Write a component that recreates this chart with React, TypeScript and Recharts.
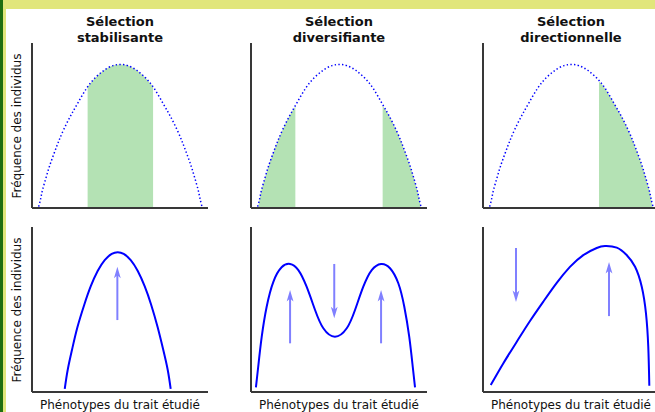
import { ComposedChart, Line, Area, XAxis, YAxis } from "recharts";

// top row: distribution before selection (same dotted curve in all three panels)
const beforeX = [3.8, 5, 6, 8, 10, 12.5, 15, 18, 22, 26, 31, 36, 41, 46, 50.2, 54.4, 59.4, 64.4, 69.4, 74.4, 78.4, 82.4, 85.4, 87.9, 90.4, 92.4, 94.4, 95.4, 96.6];
const beforeY = [0.8, 6, 11, 18.5, 25.5, 33, 40, 47.5, 56, 63.5, 72.5, 79, 83.5, 86.3, 87, 86.3, 83.5, 79, 72.5, 63.5, 56, 47.5, 40, 33, 25.5, 18.5, 11, 6, 0.8];

// selected (green) parts of each distribution
const stabFillX = [31.6, 36, 41, 46, 50.2, 54.4, 59.4, 64.4, 68.8];
const stabFillY = [73.5, 79, 83.5, 86.3, 87, 86.3, 83.5, 79, 73.5];
const divFillLeftX = [4.3, 5, 6, 8, 10, 12.5, 15, 18, 22, 25.2];
const divFillLeftY = [2, 6, 11, 18.5, 25.5, 33, 40, 47.5, 56, 61.5];
const divFillRightX = [74.8, 78.4, 82.4, 85.4, 87.9, 90.4, 92.4, 94.4, 95.4, 96.2];
const divFillRightY = [62, 56, 47.5, 40, 33, 25.5, 18.5, 11, 6, 2];
const dirFillX = [65.9, 69.4, 74.4, 78.4, 82.4, 85.4, 87.9, 90.4, 92.4, 94.4, 95.4, 96.2];
const dirFillY = [76.5, 72.5, 63.5, 56, 47.5, 40, 33, 25.5, 18.5, 11, 6, 1];

// bottom row: distribution after selection
const stabAfterX = [18.6, 20.3, 22.8, 25.8, 29.7, 33.4, 37.3, 41.3, 45.3, 48.7, 52.1, 56.1, 60.1, 64.0, 67.7, 71.4, 74.5, 77.1, 78.8];
const stabAfterY = [1.9, 13.5, 25.9, 39.2, 52.9, 64.1, 73.3, 79.9, 83.7, 84.7, 83.7, 79.9, 73.3, 64.1, 52.9, 39.2, 25.9, 13.5, 1.9];
const divAfterX = [2.8, 4.1, 6.1, 8.9, 12.7, 17.4, 22.2, 26.9, 31.6, 36.4, 41.1, 47.7, 54.4, 59.1, 63.8, 68.6, 73.9, 79, 83.7, 87.1, 89.9, 91.9, 93.2];
const divAfterY = [2.8, 15.3, 33.5, 51.7, 66.8, 75.6, 77.6, 73.9, 63.8, 49.7, 38.6, 33.5, 38.6, 49.7, 63.8, 73.9, 77.6, 75, 65.9, 51.7, 33.5, 15.3, 2.8];
const dirAfterX = [4.4, 11.5, 19.1, 26.7, 34.3, 41.9, 49.4, 57, 64.6, 69.3, 76, 81.6, 86.4, 90.2, 92.6, 93.9, 94.5];
const dirAfterY = [4.2, 17.3, 30.3, 43.0, 54.8, 66.1, 75.8, 83.0, 87.3, 88.5, 87.5, 83, 75.9, 63.8, 47.7, 27.5, 3.8];

// arrows: x position, start value, tip value
const stabArrows = [{ x: 48.5, from: 43.6, to: 75.9 }];
const divArrows = [
  { x: 22.2, from: 29.5, to: 61.8 },
  { x: 47.3, from: 77.6, to: 44.7 },
  { x: 73.9, from: 29.5, to: 61.8 },
];
const dirArrows = [
  { x: 18.75, from: 87.3, to: 54.5 },
  { x: 71.6, from: 46, to: 78.8 },
];

const titles = [
  ["Sélection", "stabilisante"],
  ["Sélection", "diversifiante"],
  ["Sélection", "directionnelle"],
];
const yLabel = "Fréquence des individus";
const xLabel = "Phénotypes du trait étudié";

const toPoints = (xs: number[], ys: number[]) => xs.map((x, i) => ({ x, y: ys[i] }));

const BLUE = "#0000ff";
const ARROW = "#8080ff";
const GREEN = "#b4e2b4";
const AXIS = "#383838";

const PLOT_W = 176;
const PLOT_H = 165;
const M = 10;
const panelLeft = [32, 251, 483];
const TOP_Y = 43;
const BOTTOM_Y = 227;
const CHART_MARGIN = { top: M, right: M, bottom: M - 1, left: M - 1 };

const ArrowHead = (props: any) => {
  const { cx, cy, payload, index } = props;
  if (index !== 1 || cx == null) return <g key={"a" + index} />;
  const s = payload.up ? 1 : -1;
  return (
    <path
      key={"a" + index}
      d={`M${cx},${cy} L${cx - 3.4},${cy + s * 11.5} L${cx},${cy + s * 8.5} L${cx + 3.4},${cy + s * 11.5} Z`}
      fill={ARROW}
      stroke="none"
    />
  );
};

function TopPanel({ left, fills }: { left: number; fills: { x: number; y: number }[][] }) {
  return (
    <div style={{ position: "absolute", left: left - M, top: TOP_Y - M }}>
      <ComposedChart width={PLOT_W + 2 * M} height={PLOT_H + 2 * M} margin={CHART_MARGIN}>
        <XAxis
          type="number"
          dataKey="x"
          domain={[0, 100]}
          allowDataOverflow
          tick={false}
          tickLine={false}
          height={1}
          axisLine={{ stroke: AXIS, strokeWidth: 2 }}
        />
        <YAxis
          type="number"
          domain={[0, 100]}
          allowDataOverflow
          tick={false}
          tickLine={false}
          width={1}
          axisLine={{ stroke: AXIS, strokeWidth: 2 }}
        />
        {fills.map((f, i) => (
          <Area
            key={i}
            data={f}
            dataKey="y"
            type="natural"
            fill={GREEN}
            fillOpacity={1}
            stroke="none"
            isAnimationActive={false}
          />
        ))}
        <Line
          data={toPoints(beforeX, beforeY)}
          dataKey="y"
          type="natural"
          stroke={BLUE}
          strokeWidth={1.5}
          strokeDasharray="1.4 2.3"
          dot={false}
          isAnimationActive={false}
        />
      </ComposedChart>
    </div>
  );
}

function BottomPanel({
  left,
  curve,
  arrows,
}: {
  left: number;
  curve: { x: number; y: number }[];
  arrows: { x: number; from: number; to: number }[];
}) {
  return (
    <div style={{ position: "absolute", left: left - M, top: BOTTOM_Y - M }}>
      <ComposedChart width={PLOT_W + 2 * M} height={PLOT_H + 2 * M} margin={CHART_MARGIN}>
        <XAxis
          type="number"
          dataKey="x"
          domain={[0, 100]}
          allowDataOverflow
          tick={false}
          tickLine={false}
          height={1}
          axisLine={{ stroke: AXIS, strokeWidth: 2 }}
        />
        <YAxis
          type="number"
          domain={[0, 100]}
          allowDataOverflow
          tick={false}
          tickLine={false}
          width={1}
          axisLine={{ stroke: AXIS, strokeWidth: 2 }}
        />
        <Line data={curve} dataKey="y" type="natural" stroke={BLUE} strokeWidth={2} dot={false} isAnimationActive={false} />
        {arrows.map((a, i) => (
          <Line
            key={i}
            data={[
              { x: a.x, y: a.from },
              { x: a.x, y: a.to + (a.to > a.from ? -4 : 4) },
            ]}
            dataKey="y"
            stroke={ARROW}
            strokeWidth={2}
            dot={false}
            isAnimationActive={false}
          />
        ))}
        {arrows.map((a, i) => (
          <Line
            key={"h" + i}
            data={[
              { x: a.x, y: a.from },
              { x: a.x, y: a.to, up: a.to > a.from },
            ]}
            dataKey="y"
            stroke="none"
            dot={ArrowHead}
            isAnimationActive={false}
          />
        ))}
      </ComposedChart>
    </div>
  );
}

export default function App() {
  return (
    <div
      style={{
        position: "absolute",
        left: 0,
        top: 0,
        width: 655,
        height: 412,
        overflow: "hidden",
        background: "#ffffff",
        fontFamily: "'DejaVu Sans', sans-serif",
        color: "#111",
      }}
    >
      <div style={{ position: "absolute", left: 0, top: 0, width: 655, height: 9, background: "#e1e67b" }} />
      <div style={{ position: "absolute", left: 0, top: 0, width: 6, height: 412, background: "#e1e67b" }} />
      <div style={{ position: "absolute", left: 0, top: 0, width: 3, height: 412, background: "#1f6e10" }} />

      {titles.map((t, i) => (
        <div
          key={i}
          style={{
            position: "absolute",
            left: panelLeft[i] + PLOT_W / 2 - 90,
            width: 180,
            top: 14,
            textAlign: "center",
            fontWeight: "bold",
            fontSize: 13,
            lineHeight: "16px",
          }}
        >
          {t[0]}
          <br />
          {t[1]}
        </div>
      ))}

      {[TOP_Y, BOTTOM_Y].map((y, i) => (
        <div
          key={i}
          style={{
            position: "absolute",
            left: 16.5 - 85,
            top: y + PLOT_H / 2 - 7,
            width: 170,
            height: 14,
            lineHeight: "14px",
            fontSize: 12,
            textAlign: "center",
            whiteSpace: "nowrap",
            transform: "rotate(-90deg)",
          }}
        >
          {yLabel}
        </div>
      ))}

      {panelLeft.map((l, i) => (
        <div
          key={i}
          style={{
            position: "absolute",
            left: l + PLOT_W / 2 - 90,
            width: 180,
            top: 398,
            fontSize: 12,
            lineHeight: "14px",
            textAlign: "center",
            whiteSpace: "nowrap",
          }}
        >
          {xLabel}
        </div>
      ))}

      <TopPanel left={panelLeft[0]} fills={[toPoints(stabFillX, stabFillY)]} />
      <TopPanel
        left={panelLeft[1]}
        fills={[toPoints(divFillLeftX, divFillLeftY), toPoints(divFillRightX, divFillRightY)]}
      />
      <TopPanel left={panelLeft[2]} fills={[toPoints(dirFillX, dirFillY)]} />

      <BottomPanel left={panelLeft[0]} curve={toPoints(stabAfterX, stabAfterY)} arrows={stabArrows} />
      <BottomPanel left={panelLeft[1]} curve={toPoints(divAfterX, divAfterY)} arrows={divArrows} />
      <BottomPanel left={panelLeft[2]} curve={toPoints(dirAfterX, dirAfterY)} arrows={dirArrows} />
    </div>
  );
}
